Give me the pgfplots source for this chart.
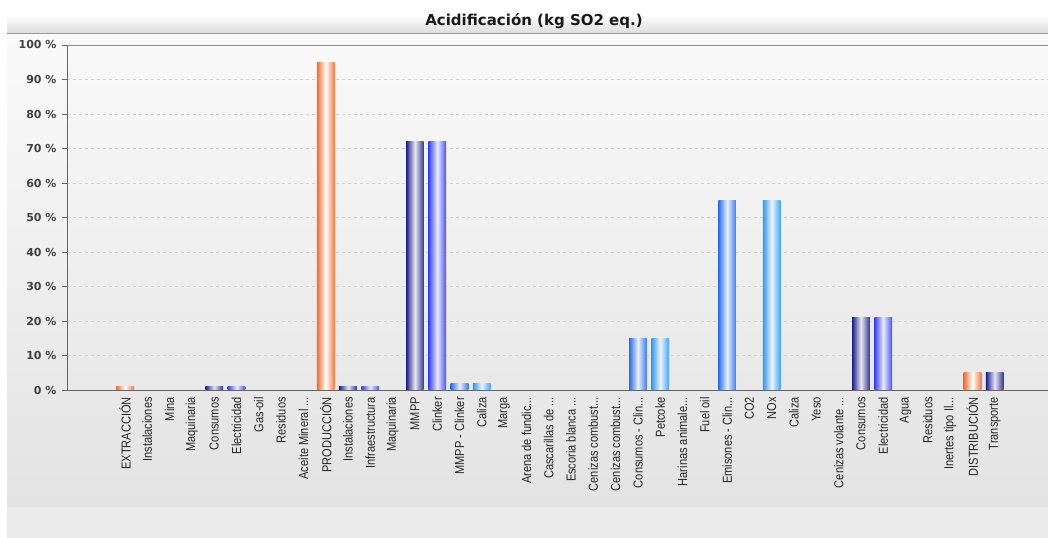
\documentclass[border=0pt]{standalone}
\usepackage{fontspec}
\setmainfont{Liberation Sans}
\newfontfamily\narrowfont{Liberation Sans}[FakeStretch=0.85]
\newfontfamily\tickfont{DejaVu Sans}
\usepackage{pgfplots}
\pgfplotsset{compat=1.18}
\definecolor{corange}{HTML}{F26B2E}
\definecolor{cnavy}{HTML}{1A1E84}
\definecolor{cblue}{HTML}{3440F0}
\definecolor{cmed}{HTML}{2A6CE8}
\definecolor{clight}{HTML}{3398F2}
\definecolor{gridc}{HTML}{D2D2D2}
\newcommand{\dd}{.{}.{}.}
\pgfplotsset{
  cyl/.style={ybar, bar width=17.7bp, bar shift=0pt, draw=none, left color=#1, right color=#1!90, middle color=white!90!#1},
}
\begin{document}
\begin{tikzpicture}
\useasboundingbox (0bp,0bp) rectangle (1048bp,538bp);
% panel background
\shade[top color=white!98!black, bottom color=white!89!black] (7bp,31bp) rectangle (1048bp,504bp);
\fill[white!92!black] (7bp,0bp) rectangle (1048bp,31bp);
% header
\shade[top color=white, bottom color=white!86!black] (7bp,504bp) rectangle (1048bp,523bp);
\draw[white!60!black, line width=1bp] (7bp,504bp) -- (1048bp,504bp);
\node[font=\tickfont\bfseries\fontsize{15bp}{17bp}\selectfont, text=black!90] at (534bp,516.5bp) {Acidificación (kg SO2 eq.)};
\begin{axis}[
  at={(67bp,148bp)}, anchor=south west,
  scale only axis, width=981bp, height=345bp,
  xmin=-2.6, xmax=41.39, ymin=0, ymax=100,
  axis x line*=bottom, axis y line*=left,
  axis line style={draw=black!60, line width=0.8bp},
  ytick={0,10,20,30,40,50,60,70,80,90,100},
  yticklabel={\pgfmathprintnumber{\tick} \%},
  /pgf/number format/assume math mode=true,
  yticklabel style={font=\tickfont\bfseries\fontsize{11bp}{13bp}\selectfont, text=black!75, xshift=-2bp},
  ymajorgrids, grid style={gridc, dashed, line width=0.6bp},
  tick align=outside, major tick length=5bp,
  ytick style={draw=black!60, line width=0.8bp},
  xtick={0,1,2,3,4,5,6,7,8,9,10,11,12,13,14,15,16,17,18,19,20,21,22,23,24,25,26,27,28,29,30,31,32,33,34,35,36,37,38,39},
  xtick style={draw=none},
  xticklabels={EXTRACCIÓN, Instalaciones, Mina, Maquinaria, Consumos, Electricidad, Gas-oil, Residuos, Aceite Mineral \dd, PRODUCCIÓN, Instalaciones, Infraestructura, Maquinaria, MMPP, Clinker, MMPP - Clinker, Caliza, Marga, Arena de fundic\dd, Cascarillas de \dd, Escoria blanca \dd, Cenizas combust\dd, Cenizas combust\dd, Consumos - Clin\dd, Petcoke, Harinas animale\dd, Fuel oil, Emisones - Clin\dd, CO2, NOx, Caliza, Yeso, Cenizas volante \dd, Consumos, Electricidad, Agua, Residuos, Inertes tipo Il\dd, DISTRIBUCIÓN, Transporte},
  xticklabel style={rotate=90, anchor=east, font=\narrowfont\fontsize{13bp}{15bp}\selectfont, text=black!85, inner sep=2bp},
  clip=false,
]
% orange
\addplot[cyl=corange, middle color=white] coordinates {(0,1)};
\addplot[cyl=corange, middle color=white] coordinates {(9,95)};
\addplot[cyl=corange, middle color=white] coordinates {(38,5)};
% navy
\addplot[cyl=cnavy] coordinates {(4,1)};
\addplot[cyl=cnavy] coordinates {(10,1)};
\addplot[cyl=cnavy] coordinates {(13,72)};
\addplot[cyl=cnavy] coordinates {(33,21)};
\addplot[cyl=cnavy] coordinates {(39,5)};
% blue
\addplot[cyl=cblue] coordinates {(5,1)};
\addplot[cyl=cblue] coordinates {(11,1)};
\addplot[cyl=cblue] coordinates {(14,72)};
\addplot[cyl=cblue] coordinates {(34,21)};
% medium blue
\addplot[cyl=cmed] coordinates {(15,2)};
\addplot[cyl=cmed] coordinates {(23,15)};
\addplot[cyl=cmed] coordinates {(27,55)};
% light blue
\addplot[cyl=clight] coordinates {(16,2)};
\addplot[cyl=clight] coordinates {(24,15)};
\addplot[cyl=clight] coordinates {(29,55)};
\draw[black!45, line width=0.8bp] (rel axis cs:0,1) -- (rel axis cs:1,1);
\end{axis}
\end{tikzpicture}
\end{document}
